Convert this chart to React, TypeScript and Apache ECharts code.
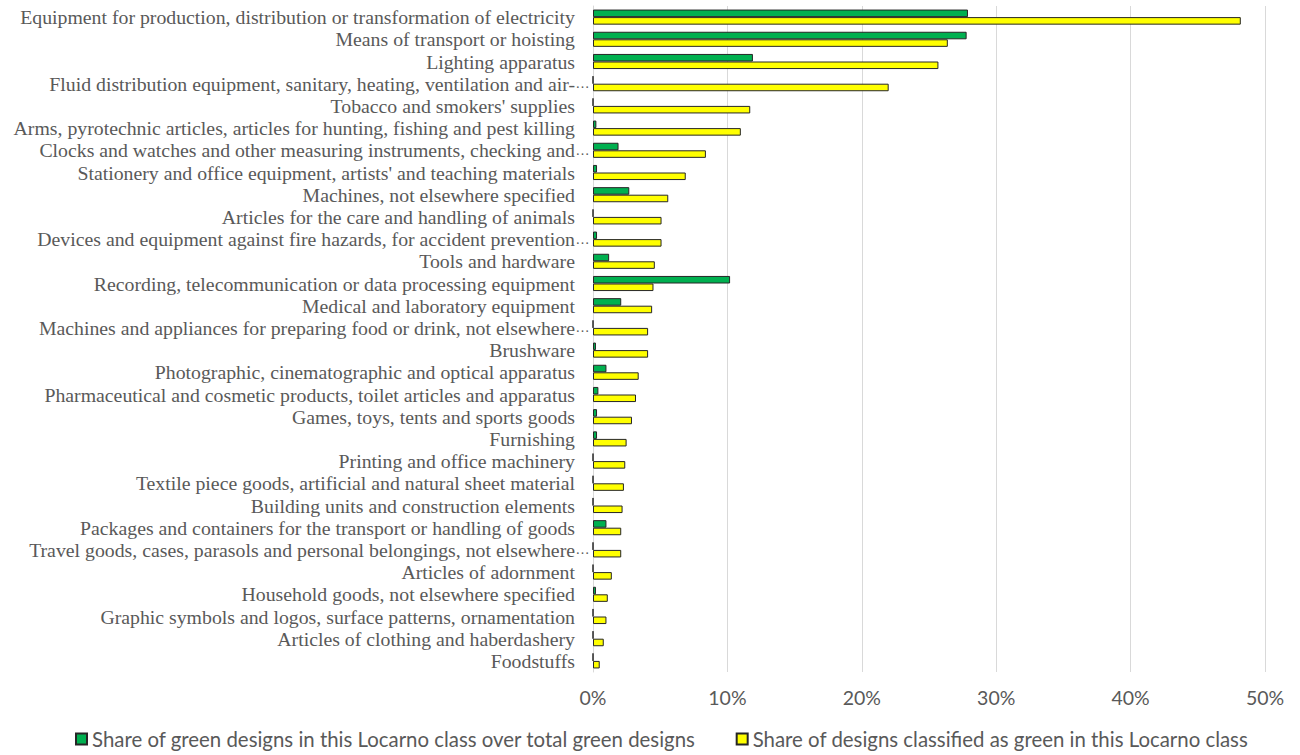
import React, { useEffect, useRef } from "react";
import * as echarts from "echarts";

const categories = [
  "Equipment for production, distribution or transformation of electricity",
  "Means of transport or hoisting",
  "Lighting apparatus",
  "Fluid distribution equipment, sanitary, heating, ventilation and air-…",
  "Tobacco and smokers' supplies",
  "Arms, pyrotechnic articles, articles for hunting, fishing and pest killing",
  "Clocks and watches and other measuring instruments, checking and…",
  "Stationery and office equipment, artists' and teaching materials",
  "Machines, not elsewhere specified",
  "Articles for the care and handling of animals",
  "Devices and equipment against fire hazards, for accident prevention…",
  "Tools and hardware",
  "Recording, telecommunication or data processing equipment",
  "Medical and laboratory equipment",
  "Machines and appliances for preparing food or drink, not elsewhere…",
  "Brushware",
  "Photographic, cinematographic and optical apparatus",
  "Pharmaceutical and cosmetic products, toilet articles and apparatus",
  "Games, toys, tents and sports goods",
  "Furnishing",
  "Printing and office machinery",
  "Textile piece goods, artificial and natural sheet material",
  "Building units and construction elements",
  "Packages and containers for the transport or handling of goods",
  "Travel goods, cases, parasols and personal belongings, not elsewhere…",
  "Articles of adornment",
  "Household goods, not elsewhere specified",
  "Graphic symbols and logos, surface patterns, ornamentation",
  "Articles of clothing and haberdashery",
  "Foodstuffs",
];

const greenShare = [
  0.279, 0.278, 0.119, 0.0, 0.0, 0.0025, 0.019, 0.003, 0.027, 0.0,
  0.003, 0.012, 0.102, 0.021, 0.0, 0.0022, 0.010, 0.004, 0.003, 0.003,
  0.0, 0.0, 0.0, 0.010, 0.0, 0.0, 0.0022, 0.0, 0.0, 0.0,
];

const classShare = [
  0.482, 0.264, 0.257, 0.22, 0.117, 0.110, 0.084, 0.069, 0.056, 0.051,
  0.051, 0.046, 0.045, 0.044, 0.041, 0.041, 0.034, 0.032, 0.029, 0.025,
  0.024, 0.023, 0.022, 0.021, 0.021, 0.014, 0.011, 0.010, 0.008, 0.005,
];

const seriesNames = [
  "Share of green designs in this Locarno class over total green designs",
  "Share of designs classified as green in this Locarno class",
];

const xTicks = { min: 0, max: 0.5, interval: 0.1 };

export default function App() {
  const ref = useRef<HTMLDivElement>(null);
  useEffect(() => {
    if (!ref.current) return;
    const chart = echarts.init(ref.current, undefined, { renderer: "svg" });
    const gray = "#595959";
    const serif = "Liberation Serif";
    chart.setOption({
      animation: false,
      backgroundColor: "#ffffff",
      grid: { left: 593, right: 35, top: 6, bottom: 83, containLabel: false },
      legend: {
        left: 70,
        top: 724,
        itemWidth: 11,
        itemHeight: 11,
        itemGap: 40,
        icon: "rect",
        textStyle: { color: gray, fontFamily: "Lato", fontSize: 20.4 },
        data: seriesNames,
      },
      xAxis: {
        type: "value",
        min: xTicks.min,
        max: xTicks.max,
        interval: xTicks.interval,
        axisLine: { show: false },
        axisTick: { show: false },
        splitLine: { show: true, lineStyle: { color: "#d9d9d9", width: 1 } },
        axisLabel: {
          color: gray,
          fontFamily: "Lato",
          fontSize: 19.5,
          margin: 15,
          formatter: (v: number) => `${Math.round(v * 100)}%`,
        },
      },
      yAxis: {
        type: "category",
        inverse: true,
        data: categories,
        axisLine: { show: true, lineStyle: { color: "#d9d9d9" } },
        axisTick: { show: false },
        axisLabel: {
          interval: 0,
          color: gray,
          fontFamily: serif,
          fontSize: 19.8,
          margin: 3,
          formatter: (v: string) =>
            v.endsWith("…") ? `{t|${v.slice(0, -1)}}{e|…}` : `{t|${v}}{s| }`,
          rich: {
            t: { color: gray, fontFamily: serif, fontSize: 19.8 },
            e: { color: gray, fontFamily: serif, fontSize: 14, width: 15, align: "left" },
            s: { color: gray, fontFamily: serif, fontSize: 14, width: 15 },
          },
        },
      },
      series: [
        {
          name: seriesNames[0],
          type: "bar",
          data: greenShare,
          barGap: "0%",
          barCategoryGap: "32%",
          itemStyle: { color: "#00B050", borderColor: "#262626", borderWidth: 1 },
        },
        {
          name: seriesNames[1],
          type: "bar",
          data: classShare,
          barGap: "0%",
          barCategoryGap: "32%",
          itemStyle: { color: "#FFFF00", borderColor: "#262626", borderWidth: 1 },
        },
      ],
    });
    return () => chart.dispose();
  }, []);
  return <div ref={ref} style={{ width: 1300, height: 755, position: "absolute", left: 0, top: 0 }} />;
}
